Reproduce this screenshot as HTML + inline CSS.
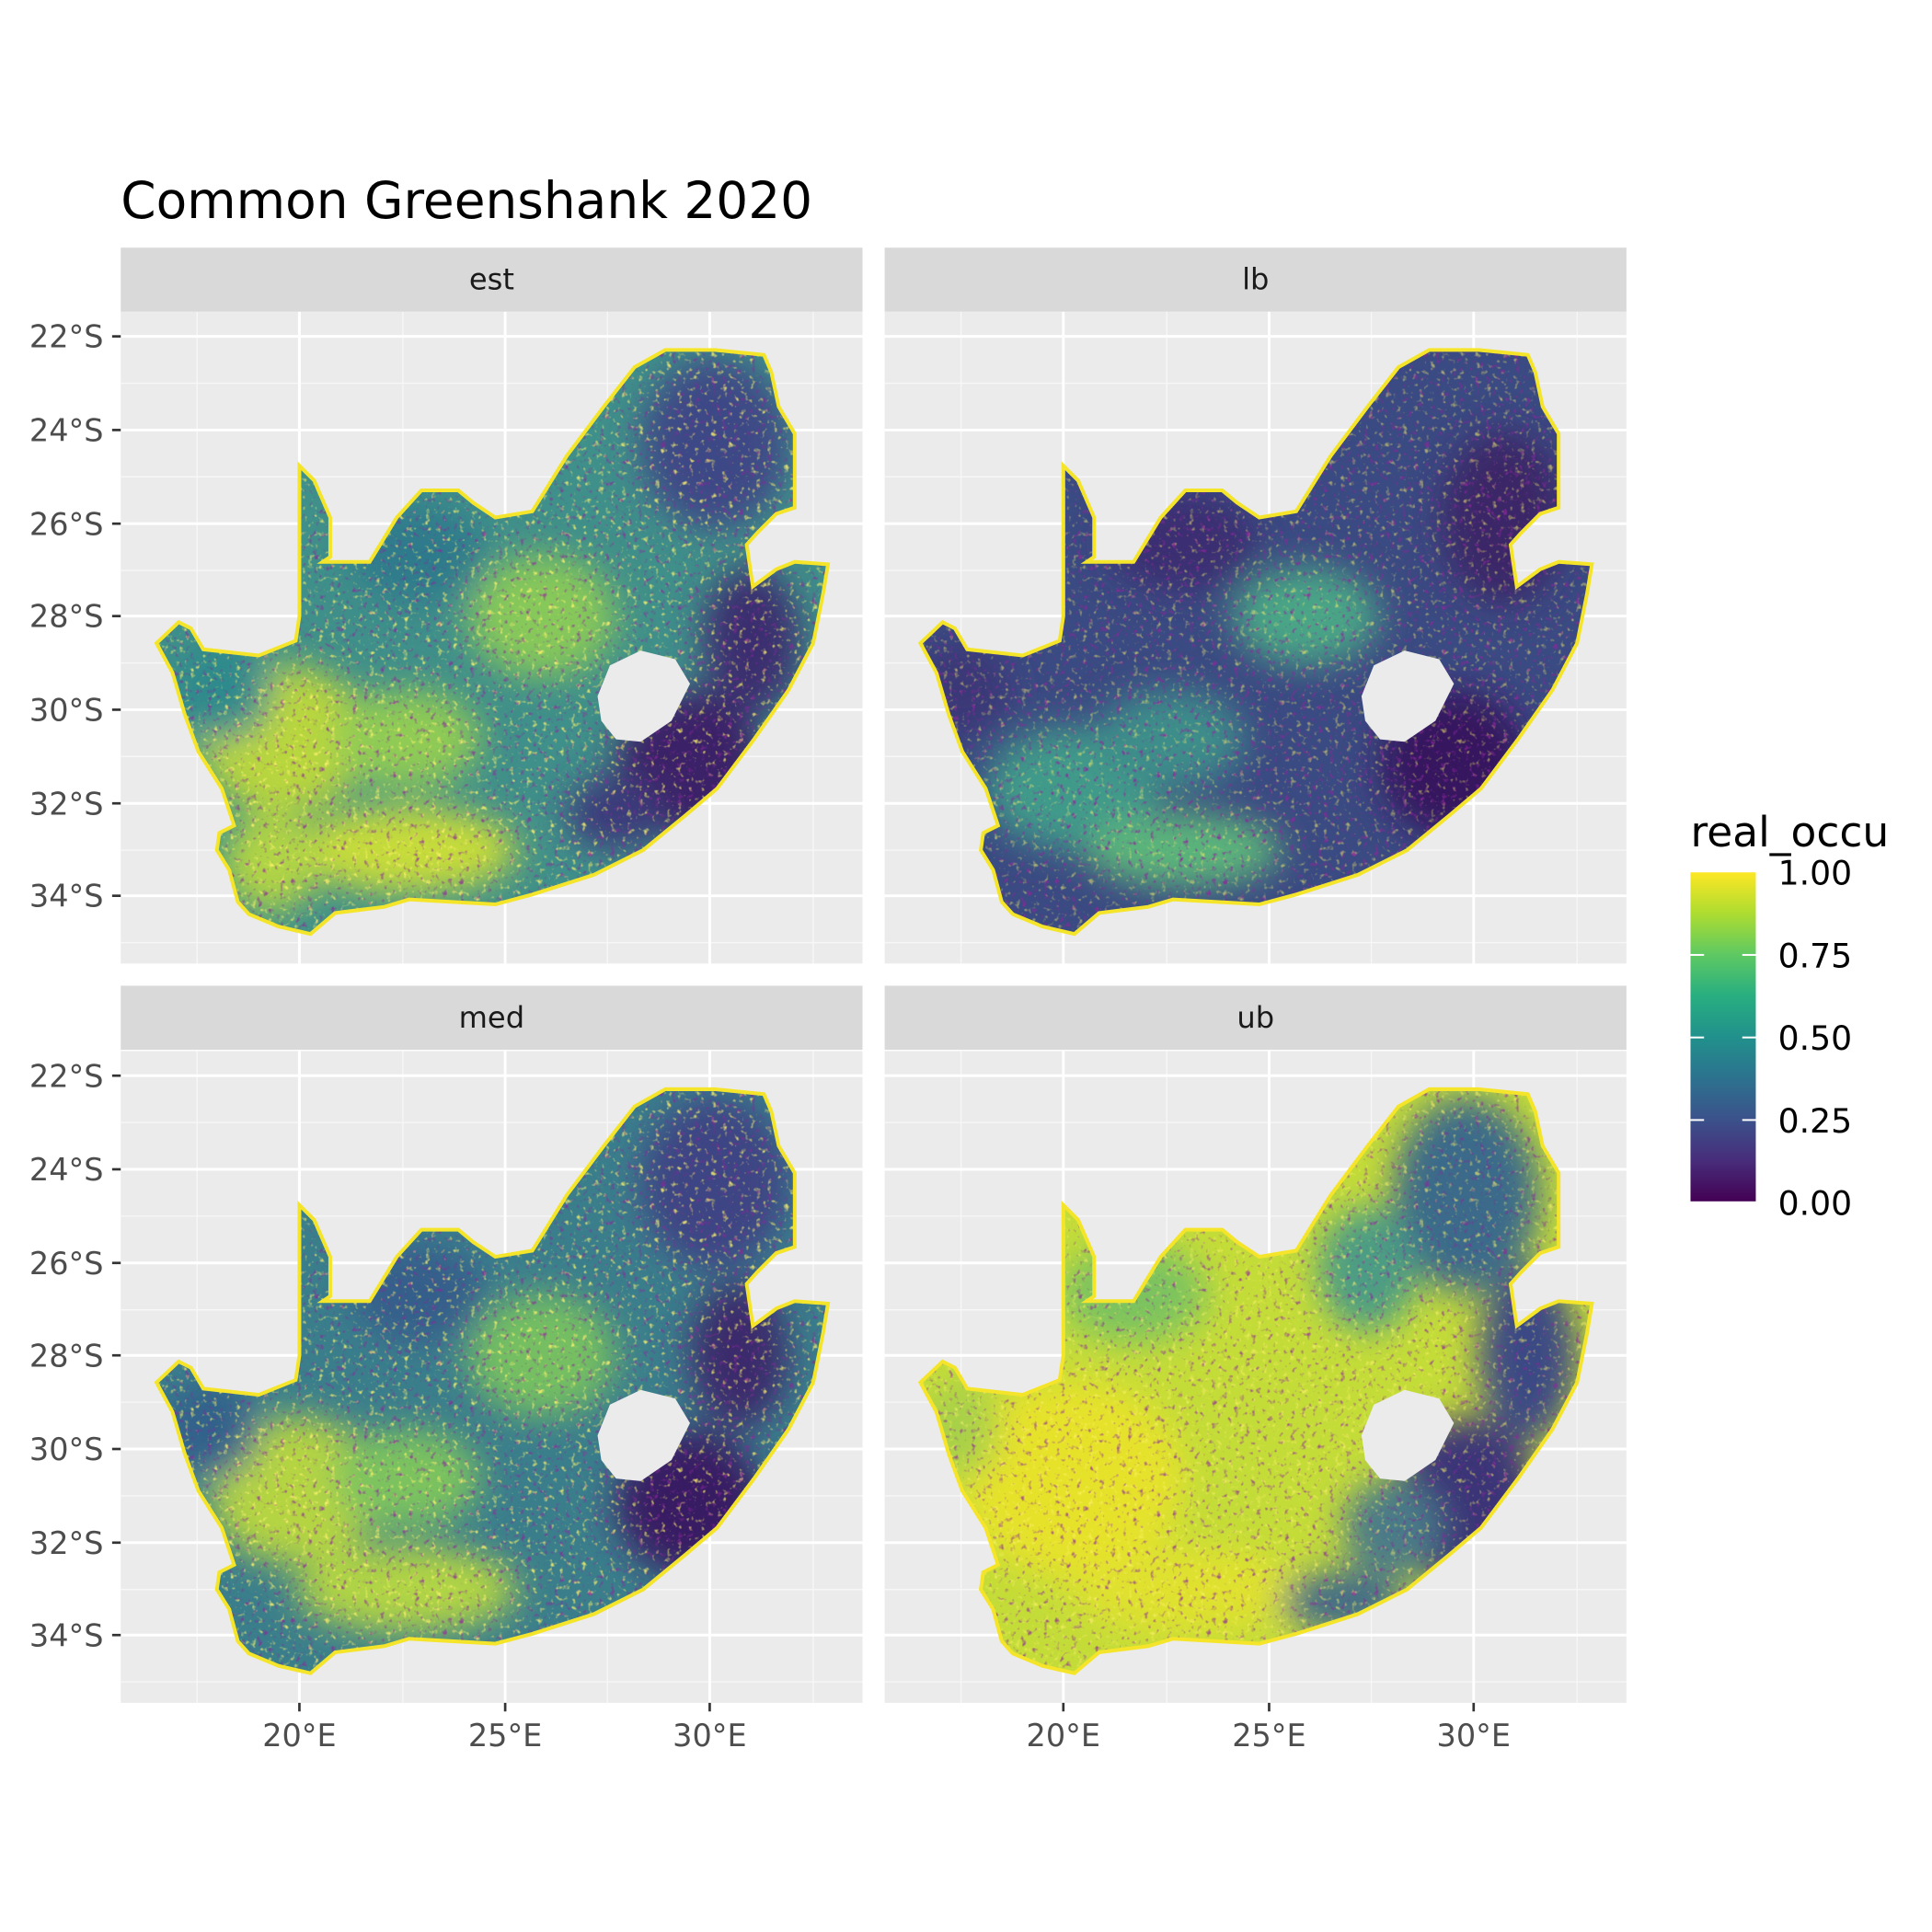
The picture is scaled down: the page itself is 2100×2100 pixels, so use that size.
<!DOCTYPE html>
<html><head><meta charset="utf-8"><style>
html,body{margin:0;padding:0;background:#fff}
svg{display:block}
text{font-family:"DejaVu Sans","Liberation Sans",sans-serif}
</style></head><body>
<svg width="2100" height="2100" viewBox="0 0 1568 1568" xmlns="http://www.w3.org/2000/svg">
<defs>
<path id="sa" d="M127,522 L145,505 L155,510 L165,527 L210,532 L240,520 L243,500 L243,378 L255,390 L268,420 L268,452 L262,456 L300,456 L322,420 L342,398 L372,398 L384,408 L402,420 L432,415 L460,370 L490,330 L515,298 L540,284 L580,284 L620,288 L626,302 L632,330 L645,352 L645,412 L630,417 L615,432 L606,442 L611,476 L630,462 L645,456 L672,458 L668,482 L660,522 L640,560 L612,600 L582,640 L556,662 L522,690 L482,710 L432,726 L402,734 L332,730 L312,736 L272,741 L252,758 L226,752 L202,742 L193,732 L186,706 L176,690 L178,676 L190,670 L180,640 L161,610 L150,580 L140,546 Z"/>
<path id="les" d="M485,565 L495,540 L520,528 L548,535 L560,555 L545,585 L520,602 L500,600 L488,585 Z"/>
<clipPath id="clip"><use href="#sa"/></clipPath>
<filter id="blur" x="-20%" y="-20%" width="140%" height="140%"><feGaussianBlur stdDeviation="14"/></filter>
<filter id="spY" x="0" y="0" width="100%" height="100%">
<feTurbulence type="fractalNoise" baseFrequency="0.22" numOctaves="2" seed="3"/>
<feColorMatrix type="matrix" values="0 0 0 0 0.99  0 0 0 0 0.90  0 0 0 0 0.15  4 0 0 0 -2.4"/>
</filter>
<filter id="spP" x="0" y="0" width="100%" height="100%">
<feTurbulence type="fractalNoise" baseFrequency="0.22" numOctaves="2" seed="9"/>
<feColorMatrix type="matrix" values="0 0 0 0 0.27  0 0 0 0 0.02  0 0 0 0 0.33  4 0 0 0 -2.4"/>
</filter>
<g id="grid">
<rect x="98" y="253" width="602" height="529" fill="#ebebeb"/>
<g stroke="#f7f7f7" stroke-width="1">
<line x1="98" x2="700" y1="311" y2="311"/><line x1="98" x2="700" y1="387" y2="387"/><line x1="98" x2="700" y1="463" y2="463"/><line x1="98" x2="700" y1="538" y2="538"/><line x1="98" x2="700" y1="614" y2="614"/><line x1="98" x2="700" y1="690" y2="690"/><line x1="98" x2="700" y1="765" y2="765"/>
<line y1="253" y2="782" x1="160" x2="160"/><line y1="253" y2="782" x1="327" x2="327"/><line y1="253" y2="782" x1="493" x2="493"/><line y1="253" y2="782" x1="660" x2="660"/>
</g>
<g stroke="#fff" stroke-width="2.2">
<line x1="98" x2="700" y1="273" y2="273"/><line x1="98" x2="700" y1="349" y2="349"/><line x1="98" x2="700" y1="425" y2="425"/><line x1="98" x2="700" y1="500" y2="500"/><line x1="98" x2="700" y1="576" y2="576"/><line x1="98" x2="700" y1="652" y2="652"/><line x1="98" x2="700" y1="727" y2="727"/>
<line y1="253" y2="782" x1="243" x2="243"/><line y1="253" y2="782" x1="410" x2="410"/><line y1="253" y2="782" x1="576" x2="576"/>
</g>
</g>
</defs>

<text x="98" y="177" font-size="41" fill="#000">Common Greenshank 2020</text>

<rect x="98" y="201" width="602" height="52" fill="#d9d9d9"/>
<rect x="718" y="201" width="602" height="52" fill="#d9d9d9"/>
<rect x="98" y="800" width="602" height="52" fill="#d9d9d9"/>
<rect x="718" y="800" width="602" height="52" fill="#d9d9d9"/>
<g font-size="24" fill="#1a1a1a" text-anchor="middle">
<text x="399" y="235">est</text><text x="1019" y="235">lb</text>
<text x="399" y="834">med</text><text x="1019" y="834">ub</text>
</g>

<g>
<use href="#grid"/>
<g clip-path="url(#clip)">
<use href="#sa" fill="#3f8f8a"/>
<g filter="url(#blur)">
<ellipse cx="230" cy="600" rx="70" ry="60" fill="#b8d63e"/>
<ellipse cx="330" cy="690" rx="90" ry="35" fill="#c6dc3a"/>
<ellipse cx="330" cy="600" rx="60" ry="40" fill="#8fcb55"/>
<ellipse cx="440" cy="500" rx="60" ry="50" fill="#86c85a"/>
<ellipse cx="220" cy="700" rx="40" ry="40" fill="#b0d444"/>
<ellipse cx="340" cy="450" rx="55" ry="40" fill="#2f7a8c"/>
<ellipse cx="180" cy="560" rx="40" ry="40" fill="#2f8a8c"/>
<ellipse cx="560" cy="620" rx="60" ry="60" fill="#3a2268"/>
<ellipse cx="610" cy="520" rx="40" ry="60" fill="#3b2f70"/>
<ellipse cx="580" cy="360" rx="60" ry="70" fill="#3d4a86"/>
<ellipse cx="500" cy="660" rx="40" ry="30" fill="#3b3a7a"/>
</g>
<rect x="98" y="253" width="602" height="529" filter="url(#spY)" opacity="0.8"/>
<rect x="98" y="253" width="602" height="529" filter="url(#spP)" opacity="0.7"/>
</g>
<use href="#sa" fill="none" stroke="#f5e52a" stroke-width="3"/>
<use href="#les" fill="#ebebeb"/>
</g>

<g transform="translate(620,0)">
<use href="#grid"/>
<g clip-path="url(#clip)">
<use href="#sa" fill="#3a4a82"/>
<g filter="url(#blur)">
<ellipse cx="250" cy="640" rx="70" ry="50" fill="#3f9a8a"/>
<ellipse cx="340" cy="690" rx="80" ry="30" fill="#5bb57a"/>
<ellipse cx="440" cy="500" rx="60" ry="40" fill="#4aa586"/>
<ellipse cx="330" cy="600" rx="60" ry="40" fill="#3d8d8a"/>
<ellipse cx="340" cy="440" rx="60" ry="40" fill="#3a2f72"/>
<ellipse cx="160" cy="560" rx="40" ry="40" fill="#3b3777"/>
<ellipse cx="560" cy="620" rx="60" ry="60" fill="#36175f"/>
<ellipse cx="600" cy="420" rx="50" ry="70" fill="#3a2868"/>
</g>
<rect x="98" y="253" width="602" height="529" filter="url(#spY)" opacity="0.55"/>
<rect x="98" y="253" width="602" height="529" filter="url(#spP)" opacity="0.8"/>
</g>
<use href="#sa" fill="none" stroke="#f5e52a" stroke-width="3"/>
<use href="#les" fill="#ebebeb"/>
</g>

<g transform="translate(0,600)">
<use href="#grid"/>
<g clip-path="url(#clip)">
<use href="#sa" fill="#3a7e8c"/>
<g filter="url(#blur)">
<ellipse cx="240" cy="610" rx="70" ry="60" fill="#b4d443"/>
<ellipse cx="330" cy="690" rx="90" ry="35" fill="#b0d444"/>
<ellipse cx="330" cy="600" rx="60" ry="40" fill="#7cc35e"/>
<ellipse cx="440" cy="500" rx="60" ry="50" fill="#74bf62"/>
<ellipse cx="340" cy="450" rx="55" ry="40" fill="#355e8b"/>
<ellipse cx="170" cy="560" rx="40" ry="40" fill="#32628b"/>
<ellipse cx="560" cy="620" rx="60" ry="60" fill="#381c64"/>
<ellipse cx="600" cy="500" rx="40" ry="60" fill="#3a2a6c"/>
<ellipse cx="580" cy="360" rx="60" ry="70" fill="#3c4584"/>
</g>
<rect x="98" y="253" width="602" height="529" filter="url(#spY)" opacity="0.8"/>
<rect x="98" y="253" width="602" height="529" filter="url(#spP)" opacity="0.7"/>
</g>
<use href="#sa" fill="none" stroke="#f5e52a" stroke-width="3"/>
<use href="#les" fill="#ebebeb"/>
</g>

<g transform="translate(620,600)">
<use href="#grid"/>
<g clip-path="url(#clip)">
<use href="#sa" fill="#c4dc38"/>
<g filter="url(#blur)">
<ellipse cx="250" cy="600" rx="90" ry="80" fill="#e6e22c"/>
<ellipse cx="340" cy="690" rx="90" ry="35" fill="#dfe12e"/>
<ellipse cx="300" cy="450" rx="60" ry="40" fill="#7cc35e"/>
<ellipse cx="160" cy="560" rx="30" ry="40" fill="#a7d04a"/>
<ellipse cx="570" cy="620" rx="60" ry="70" fill="#3b3478"/>
<ellipse cx="620" cy="500" rx="40" ry="70" fill="#3b4a84"/>
<ellipse cx="570" cy="370" rx="60" ry="80" fill="#3a6a8a"/>
<ellipse cx="490" cy="430" rx="40" ry="50" fill="#4c9c84"/>
<ellipse cx="470" cy="700" rx="50" ry="25" fill="#3f6a88"/>
<ellipse cx="510" cy="640" rx="40" ry="40" fill="#4a7a88"/>
</g>
<rect x="98" y="253" width="602" height="529" filter="url(#spY)" opacity="0.6"/>
<rect x="98" y="253" width="602" height="529" filter="url(#spP)" opacity="0.7"/>
</g>
<use href="#sa" fill="none" stroke="#f5e52a" stroke-width="3"/>
<use href="#les" fill="#ebebeb"/>
</g>

<g font-size="25" fill="#4d4d4d" text-anchor="end">
<text x="84" y="282">22°S</text><text x="84" y="358">24°S</text><text x="84" y="434">26°S</text><text x="84" y="509">28°S</text><text x="84" y="585">30°S</text><text x="84" y="661">32°S</text><text x="84" y="736">34°S</text>
<text x="84" y="882">22°S</text><text x="84" y="958">24°S</text><text x="84" y="1034">26°S</text><text x="84" y="1109">28°S</text><text x="84" y="1185">30°S</text><text x="84" y="1261">32°S</text><text x="84" y="1336">34°S</text>
</g>
<g stroke="#333" stroke-width="2">
<line x1="91" x2="98" y1="273" y2="273"/><line x1="91" x2="98" y1="349" y2="349"/><line x1="91" x2="98" y1="425" y2="425"/><line x1="91" x2="98" y1="500" y2="500"/><line x1="91" x2="98" y1="576" y2="576"/><line x1="91" x2="98" y1="652" y2="652"/><line x1="91" x2="98" y1="727" y2="727"/>
<line x1="91" x2="98" y1="873" y2="873"/><line x1="91" x2="98" y1="949" y2="949"/><line x1="91" x2="98" y1="1025" y2="1025"/><line x1="91" x2="98" y1="1100" y2="1100"/><line x1="91" x2="98" y1="1176" y2="1176"/><line x1="91" x2="98" y1="1252" y2="1252"/><line x1="91" x2="98" y1="1327" y2="1327"/>
<line y1="1382" y2="1389" x1="243" x2="243"/><line y1="1382" y2="1389" x1="410" x2="410"/><line y1="1382" y2="1389" x1="576" x2="576"/>
<line y1="1382" y2="1389" x1="863" x2="863"/><line y1="1382" y2="1389" x1="1030" x2="1030"/><line y1="1382" y2="1389" x1="1196" x2="1196"/>
</g>
<g font-size="25" fill="#4d4d4d" text-anchor="middle">
<text x="243" y="1417">20°E</text><text x="410" y="1417">25°E</text><text x="576" y="1417">30°E</text>
<text x="863" y="1417">20°E</text><text x="1030" y="1417">25°E</text><text x="1196" y="1417">30°E</text>
</g>

<defs><linearGradient id="vir" x1="0" y1="1" x2="0" y2="0">
<stop offset="0" stop-color="#440154"/><stop offset="0.125" stop-color="#472d7b"/><stop offset="0.25" stop-color="#3b528b"/><stop offset="0.375" stop-color="#2c728e"/><stop offset="0.5" stop-color="#21918c"/><stop offset="0.625" stop-color="#28ae80"/><stop offset="0.75" stop-color="#5ec962"/><stop offset="0.875" stop-color="#addc30"/><stop offset="1" stop-color="#fde725"/>
</linearGradient></defs>
<text x="1372" y="687" font-size="34" fill="#000">real_occu</text>
<rect x="1372" y="708" width="53" height="267" fill="url(#vir)"/>
<g stroke="#fff" stroke-width="1.5">
<line x1="1372" x2="1383" y1="775" y2="775"/><line x1="1414" x2="1425" y1="775" y2="775"/>
<line x1="1372" x2="1383" y1="842" y2="842"/><line x1="1414" x2="1425" y1="842" y2="842"/>
<line x1="1372" x2="1383" y1="909" y2="909"/><line x1="1414" x2="1425" y1="909" y2="909"/>
</g>
<g font-size="27" fill="#000">
<text x="1443" y="718">1.00</text><text x="1443" y="785">0.75</text><text x="1443" y="852">0.50</text><text x="1443" y="919">0.25</text><text x="1443" y="986">0.00</text>
</g>
</svg>
</body></html>
